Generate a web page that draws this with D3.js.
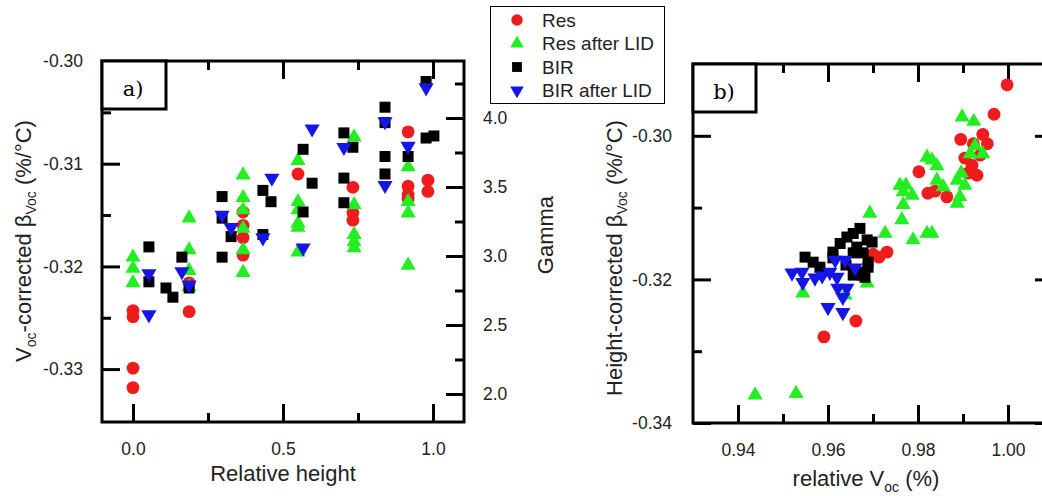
<!DOCTYPE html>
<html>
<head>
<meta charset="utf-8">
<script src="https://cdn.jsdelivr.net/npm/d3@7"></script>
<style>
body { margin: 0; background: #fff; }
svg text { font-family: "Liberation Sans", Arial, sans-serif; }
</style>
</head>
<body>
<svg id="chart" width="1042" height="496"></svg>
<script>
// ---- panel a: relative height vs Voc-corrected beta ----
var resHeight = [0, 0, 0, 0, 0.187, 0.187, 0.367, 0.367, 0.367, 0.367, 0.55, 0.733, 0.733, 0.733, 0.917, 0.917, 0.917, 0.917, 0.983, 0.983]
var resBeta = [-0.3299, -0.3318, -0.3243, -0.3249, -0.3216, -0.3244, -0.3147, -0.3160, -0.3172, -0.3189, -0.3110, -0.3123, -0.3148, -0.3155, -0.3069, -0.3122, -0.3130, -0.3134, -0.3116, -0.3127]

var resLidHeight = [0, 0, 0, 0.187, 0.187, 0.187, 0.187, 0.367, 0.367, 0.367, 0.367, 0.367, 0.367, 0.55, 0.55, 0.55, 0.55, 0.55, 0.55, 0.737, 0.737, 0.737, 0.737, 0.737, 0.917, 0.917, 0.917, 0.917]
var resLidBeta = [-0.3191, -0.3202, -0.3216, -0.3153, -0.3184, -0.3204, -0.3220, -0.3111, -0.3133, -0.3145, -0.3163, -0.3184, -0.3206, -0.3097, -0.3137, -0.3145, -0.3158, -0.3162, -0.3186, -0.3074, -0.3140, -0.3169, -0.3176, -0.3182, -0.3103, -0.3137, -0.3148, -0.3199]

var birHeight = [0.053, 0.053, 0.11, 0.133, 0.163, 0.187, 0.297, 0.297, 0.297, 0.327, 0.433, 0.46, 0.433, 0.567, 0.597, 0.567, 0.703, 0.733, 0.703, 0.703, 0.84, 0.84, 0.84, 0.84, 0.917, 0.977, 1.003, 0.977]
var birBeta = [-0.3181, -0.3215, -0.3221, -0.3230, -0.3191, -0.3221, -0.3132, -0.3153, -0.3191, -0.3171, -0.3126, -0.3137, -0.3169, -0.3086, -0.3119, -0.3147, -0.3070, -0.3084, -0.3114, -0.3138, -0.3045, -0.3060, -0.3093, -0.3110, -0.3093, -0.3075, -0.3073, -0.3020]

var birLidHeight = [0.053, 0.053, 0.163, 0.187, 0.297, 0.327, 0.463, 0.433, 0.597, 0.567, 0.703, 0.84, 0.84, 0.917, 0.977]
var birLidBeta = [-0.3207, -0.3247, -0.3205, -0.3218, -0.3150, -0.3162, -0.3114, -0.3172, -0.3066, -0.3182, -0.3084, -0.3059, -0.3121, -0.3083, -0.3026]

// ---- panel b: relative Voc vs height-corrected beta ----
var resVoc = [0.9998, 0.9969, 0.9944, 0.9895, 0.9954, 0.9923, 0.9938, 0.9904, 0.9920, 0.9931, 0.9911, 0.9802, 0.9822, 0.9838, 0.9864, 0.9731, 0.9713, 0.9700, 0.9662, 0.9591]
var resBetaH = [-0.2929, -0.2970, -0.2998, -0.3005, -0.3011, -0.3011, -0.3027, -0.3031, -0.3041, -0.3055, -0.3052, -0.3050, -0.3080, -0.3077, -0.3085, -0.3162, -0.3169, -0.3165, -0.3258, -0.3280]

var resLidVoc = [0.9898, 0.9924, 0.9927, 0.9916, 0.9944, 0.9820, 0.9831, 0.9842, 0.9896, 0.9887, 0.9842, 0.9904, 0.9760, 0.9773, 0.9856, 0.9767, 0.9787, 0.9893, 0.9887, 0.9767, 0.9693, 0.9764, 0.9727, 0.9789, 0.9820, 0.9831, 0.9687, 0.9544, 0.9638, 0.9438, 0.9529]
var resLidBetaH = [-0.2974, -0.2980, -0.3014, -0.3025, -0.3025, -0.3030, -0.3034, -0.3042, -0.3052, -0.3062, -0.3062, -0.3069, -0.3069, -0.3069, -0.3071, -0.3078, -0.3083, -0.3085, -0.3094, -0.3096, -0.3108, -0.3117, -0.3136, -0.3145, -0.3136, -0.3136, -0.3205, -0.3219, -0.3222, -0.3361, -0.3359]

var birVoc = [0.9549, 0.9567, 0.9582, 0.9611, 0.9611, 0.9627, 0.9642, 0.9656, 0.9671, 0.9687, 0.9698, 0.9664, 0.9656, 0.9678, 0.9689, 0.9689, 0.9671, 0.9656, 0.9676, 0.9682, 0.9640]
var birBetaH = [-0.3169, -0.3176, -0.3183, -0.3162, -0.3170, -0.3150, -0.3141, -0.3136, -0.3129, -0.3145, -0.3148, -0.3155, -0.3163, -0.3163, -0.3176, -0.3183, -0.3190, -0.3194, -0.3194, -0.3197, -0.3180]

var birLidVoc = [0.9520, 0.9542, 0.9544, 0.9571, 0.9587, 0.9604, 0.9620, 0.9616, 0.9638, 0.9660, 0.9622, 0.9642, 0.9633, 0.9600, 0.9633]
var birLidBetaH = [-0.3191, -0.3190, -0.3204, -0.3198, -0.3195, -0.3190, -0.3197, -0.3173, -0.3173, -0.3184, -0.3212, -0.3212, -0.3225, -0.3239, -0.3246]

var seriesNames = ["Res", "Res after LID", "BIR", "BIR after LID"]
var styles = [
    { type: d3.symbolCircle, size: 130, color: "#ee1c1c", down: false },
    { type: d3.symbolTriangle, size: 100, color: "#22ee22", down: false },
    { type: d3.symbolSquare, size: 121, color: "#000000", down: false },
    { type: d3.symbolTriangle, size: 100, color: "#1515e6", down: true }
]

var svg = d3.select("#chart")

// scales
var xA = d3.scaleLinear().domain([-0.1033, 1.1033]).range([102, 464])
var yA = d3.scaleLinear().domain([-0.33515, -0.30]).range([422, 61])
var gammaA = d3.scaleLinear().domain([1.797, 4.413]).range([422, 61])

var xB = d3.scaleLinear().domain([0.93, 1.01]).range([693, 1053])
var yB = d3.scaleLinear().domain([-0.34, -0.29]).range([423, 64])

var blank = function () { return "" }
var f1 = function (d) { return d.toFixed(1) }
var f2 = function (d) { return d.toFixed(2) }

function axis(gen, tx, ty, vals, size, fmt, pad) {
    var g = svg.append("g")
        .attr("transform", "translate(" + tx + "," + ty + ")")
        .call(gen.tickValues(vals).tickSize(size).tickPadding(pad).tickFormat(fmt))
    g.select(".domain").remove()
    g.attr("font-family", "Liberation Sans, Arial, sans-serif").attr("font-size", 17.5)
    g.selectAll(".tick line").attr("stroke", "#000").attr("stroke-width", 3)
    g.selectAll(".tick text").attr("fill", "#222")
}

function plotSeries(xs, ys, xScale, yScale, s) {
    svg.append("g").selectAll("path")
        .data(xs)
        .enter()
        .append("path")
            .attr("d", d3.symbol().type(s.type).size(s.size))
            .attr("transform", function (d, i) {
                return "translate(" + xScale(d) + "," + yScale(ys[i]) + ")" + (s.down ? " rotate(180)" : "")
            })
            .attr("fill", s.color)
}

// //////////
// PANEL A //
// //////////
svg.append("rect")
    .attr("x", xA.range()[0]).attr("y", yA.range()[1])
    .attr("width", xA.range()[1] - xA.range()[0]).attr("height", yA.range()[0] - yA.range()[1])
    .attr("fill", "none").attr("stroke", "#000").attr("stroke-width", 3)

axis(d3.axisBottom(xA), 0, 422, [0, 0.5, 1], -18, f1, 21)
axis(d3.axisBottom(xA), 0, 422, [0.25, 0.75], -9, blank, 21)
axis(d3.axisTop(xA), 0, 61, [0, 0.5, 1], -18, blank, 0)
axis(d3.axisTop(xA), 0, 61, [0.25, 0.75], -9, blank, 0)
axis(d3.axisLeft(yA), 102, 0, [-0.30, -0.31, -0.32, -0.33], -18, f2, 19)
axis(d3.axisLeft(yA), 102, 0, [-0.305, -0.315, -0.325], -9, blank, 19)
axis(d3.axisRight(gammaA), 464, 0, [2, 2.5, 3, 3.5, 4], -18, f1, 19)
axis(d3.axisRight(gammaA), 464, 0, [2.25, 2.75, 3.25, 3.75, 4.25], -9, blank, 19)

plotSeries(resHeight, resBeta, xA, yA, styles[0])
plotSeries(resLidHeight, resLidBeta, xA, yA, styles[1])
plotSeries(birHeight, birBeta, xA, yA, styles[2])
plotSeries(birLidHeight, birLidBeta, xA, yA, styles[3])

// panel label box
svg.append("rect").attr("x", 102).attr("y", 61).attr("width", 64).attr("height", 48)
    .attr("fill", "#fff").attr("stroke", "#000").attr("stroke-width", 3)
svg.append("text").attr("x", 133).attr("y", 96).attr("text-anchor", "middle")
    .style("font-family", "DejaVu Serif, serif").attr("font-size", 21).text("a)")

svg.append("text")
    .attr("x", 283).attr("y", 481)
    .attr("text-anchor", "middle").attr("font-size", 22).attr("fill", "#222")
    .text("Relative height")

var ylabA = svg.append("text")
    .attr("transform", "translate(31,241) rotate(-90)")
    .attr("text-anchor", "middle").attr("font-size", 22).attr("fill", "#222")
ylabA.append("tspan").text("V")
ylabA.append("tspan").attr("font-size", 14).attr("dy", 5).text("oc")
ylabA.append("tspan").attr("dy", -5).text("-corrected β")
ylabA.append("tspan").attr("font-size", 14).attr("dy", 5).text("Voc")
ylabA.append("tspan").attr("dy", -5).text(" (%/°C)")

svg.append("text")
    .attr("transform", "translate(553,235) rotate(-90)")
    .attr("text-anchor", "middle").attr("font-size", 22).attr("fill", "#222")
    .text("Gamma")

// //////////
// PANEL B //
// //////////
svg.append("rect")
    .attr("x", xB.range()[0]).attr("y", yB.range()[1])
    .attr("width", xB.range()[1] - xB.range()[0]).attr("height", yB.range()[0] - yB.range()[1])
    .attr("fill", "none").attr("stroke", "#000").attr("stroke-width", 3)

axis(d3.axisBottom(xB), 0, 423, [0.94, 0.96, 0.98, 1.00], -18, f2, 21)
axis(d3.axisBottom(xB), 0, 423, [0.95, 0.97, 0.99], -9, blank, 21)
axis(d3.axisTop(xB), 0, 64, [0.94, 0.96, 0.98, 1.00], -18, blank, 0)
axis(d3.axisTop(xB), 0, 64, [0.95, 0.97, 0.99], -9, blank, 0)
axis(d3.axisLeft(yB), 693, 0, [-0.34, -0.32, -0.30], -18, f2, 21)
axis(d3.axisLeft(yB), 693, 0, [-0.33, -0.31], -9, blank, 21)
axis(d3.axisRight(yB), 1053, 0, [-0.34, -0.32, -0.30], -18, blank, 0)
axis(d3.axisRight(yB), 1053, 0, [-0.33, -0.31], -9, blank, 0)

plotSeries(resVoc, resBetaH, xB, yB, styles[0])
plotSeries(resLidVoc, resLidBetaH, xB, yB, styles[1])
plotSeries(birVoc, birBetaH, xB, yB, styles[2])
plotSeries(birLidVoc, birLidBetaH, xB, yB, styles[3])

svg.append("rect").attr("x", 693).attr("y", 64).attr("width", 63).attr("height", 48)
    .attr("fill", "#fff").attr("stroke", "#000").attr("stroke-width", 3)
svg.append("text").attr("x", 724).attr("y", 99).attr("text-anchor", "middle")
    .style("font-family", "DejaVu Serif, serif").attr("font-size", 21).text("b)")

var xlabB = svg.append("text")
    .attr("x", 866).attr("y", 486)
    .attr("text-anchor", "middle").attr("font-size", 22).attr("fill", "#222")
xlabB.append("tspan").text("relative V")
xlabB.append("tspan").attr("font-size", 14).attr("dy", 6).text("oc")
xlabB.append("tspan").attr("dy", -6).text(" (%)")

var ylabB = svg.append("text")
    .attr("transform", "translate(622,258) rotate(-90)")
    .attr("text-anchor", "middle").attr("font-size", 22).attr("fill", "#222")
ylabB.append("tspan").text("Height-corrected β")
ylabB.append("tspan").attr("font-size", 14).attr("dy", 5).text("Voc")
ylabB.append("tspan").attr("dy", -5).text(" (%/°C)")

// //////////
// LEGEND  //
// //////////
var legend = svg.append("g")
legend.append("rect")
    .attr("x", 490.5).attr("y", 6.5).attr("width", 174).attr("height", 97)
    .attr("fill", "#fff").attr("stroke", "#000").attr("stroke-width", 1)

legend.selectAll("mydots")
    .data(seriesNames)
    .enter()
    .append("path")
        .attr("d", function (d, i) { return d3.symbol().type(styles[i].type).size(styles[i].size * 0.8)() })
        .attr("transform", function (d, i) { return "translate(517," + (20 + i * 23.5) + ")" + (styles[i].down ? " rotate(180)" : "") })
        .attr("fill", function (d, i) { return styles[i].color })

legend.selectAll("mylabels")
    .data(seriesNames)
    .enter()
    .append("text")
        .attr("x", 542)
        .attr("y", function (d, i) { return 20 + i * 23.5 })
        .attr("dy", "0.36em")
        .attr("font-size", 19)
        .attr("fill", "#222")
        .text(function (d) { return d })
</script>
</body>
</html>
